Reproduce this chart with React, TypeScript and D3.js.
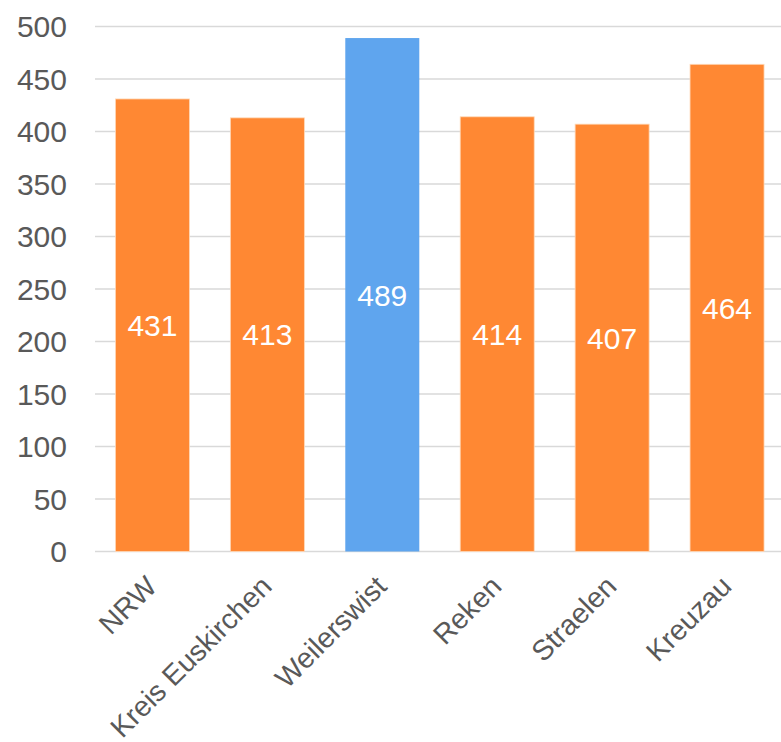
import React from "react";
import * as d3 from "d3";

const categories = ["NRW", "Kreis Euskirchen", "Weilerswist", "Reken", "Straelen", "Kreuzau"];
const values = [431, 413, 489, 414, 407, 464];
const highlight = ["Weilerswist"];
const yTicks = [0, 50, 100, 150, 200, 250, 300, 350, 400, 450, 500];

const W = 781;
const H = 742;
const left = 95;
const right = 784.5;
const top = 26.5;
const bottom = 551.5;

export default function App() {
  const x = d3.scaleBand<string>().domain(categories).range([left, right]).paddingInner(0.356).paddingOuter(0.178);
  const y = d3.scaleLinear().domain([0, 500]).range([bottom, top]);
  const font = "'Liberation Sans', Arial, sans-serif";
  return (
    <svg width={W} height={H} style={{ position: "absolute", left: 0, top: 0 }} fontFamily={font}>
      <rect width={W} height={H} fill="#fff" />
      {yTicks.map((t) => (
        <g key={t}>
          <line x1={left} x2={W} y1={y(t)} y2={y(t)} stroke="#d9d9d9" strokeWidth={1.5} />
          <text x={67} y={y(t)} dy="0.36em" textAnchor="end" fontSize={30} fill="#595959">
            {t}
          </text>
        </g>
      ))}
      {categories.map((c, i) => {
        const v = values[i];
        const hl = highlight.includes(c);
        const bx = x(c)!;
        const bw = x.bandwidth();
        return (
          <g key={c}>
            <rect
              x={bx}
              y={y(v)}
              width={bw}
              height={y(0) - y(v)}
              fill={hl ? "#5fa5ee" : "#ff8833"}
              stroke={hl ? "none" : "#ffd9b8"}
              strokeWidth={hl ? 0 : 0.8}
            />
            <text x={bx + bw / 2} y={(y(v) + y(0)) / 2} dy="0.36em" textAnchor="middle" fontSize={30} fill="#fff">
              {v}
            </text>
            <text
              transform={`translate(${bx + bw / 2 - 8},${574}) rotate(-45)`}
              textAnchor="end"
              dy="0.7em"
              fontSize={28.5}
              fill="#595959"
            >
              {c}
            </text>
          </g>
        );
      })}
    </svg>
  );
}
